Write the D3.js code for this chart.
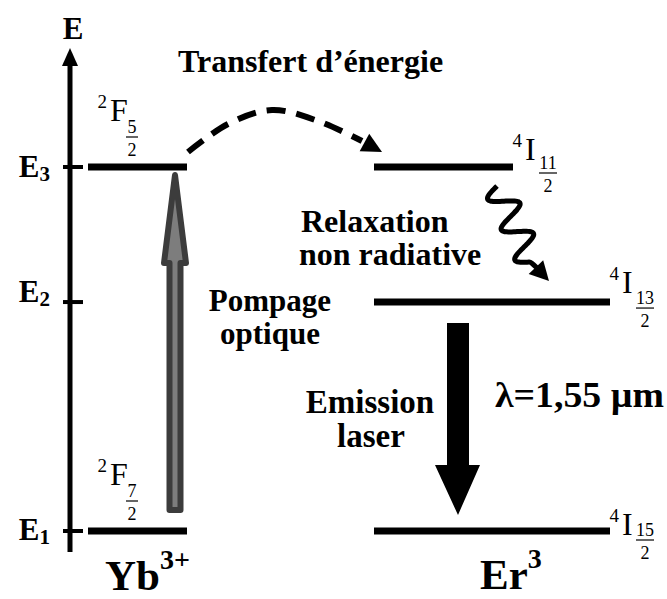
<!DOCTYPE html>
<html>
<head>
<meta charset="utf-8">
<script src="https://cdn.jsdelivr.net/npm/d3@7"></script>
<style>
  body { margin: 0; background: #fff; }
  text { font-family: "Liberation Serif", "Times New Roman", serif; fill: #000; }
  .bold { font-weight: bold; }
</style>
</head>
<body>
<div id="chart"></div>
<script>
// energy levels (arbitrary units, E1 = 0, E3 = 1)
const levelNames = ['E1', 'E2', 'E3'];
const levelEnergies = [0, 0.629, 1];

// Yb3+ levels and their terms
const ybLevels = ['E1', 'E3'];
const ybTerms = ['2F7/2', '2F5/2'];

// Er3+ levels and their terms
const erLevels = ['E1', 'E2', 'E3'];
const erTerms = ['4I15/2', '4I13/2', '4I11/2'];

const ionNames = ['Yb', 'Er'];
const ionCharges = ['3+', '3'];

const transferLabel = 'Transfert d\u2019énergie';
const relaxLabel = ['Relaxation', 'non radiative'];
const pumpLabel = ['Pompage', 'optique'];
const emissionLabel = ['Emission', 'laser'];
const wavelengthLabel = '\u03bb=1,55 \u00b5m';

const width = 667;
const height = 599;

const svg = d3.select('#chart').append('svg')
  .attr('width', width)
  .attr('height', height);

// energy -> pixel
const y = d3.scaleLinear().domain([0, 1]).range([531, 167]);
const energyOf = (name) => levelEnergies[levelNames.indexOf(name)];

const axisX = 70;
const axisTop = y(1.327);
const axisBottom = y(-0.058);

// level extents (x) per ion column
const ybX = [88, 187];
const erX = { E1: [374, 610], E2: [374, 610], E3: [374, 513] };

// Energy axis
svg.append('line')
  .attr('x1', axisX).attr('x2', axisX)
  .attr('y1', axisBottom).attr('y2', axisTop + 12)
  .attr('stroke', '#000').attr('stroke-width', 5);

svg.append('path')
  .attr('d', `M${axisX},${axisTop} L${axisX + 8},${axisTop + 18} L${axisX - 8},${axisTop + 18} Z`)
  .attr('fill', '#000');

svg.append('text')
  .attr('class', 'bold')
  .attr('x', axisX + 3).attr('y', axisTop - 9)
  .attr('text-anchor', 'middle')
  .style('font-size', '31px')
  .text('E');

// ticks across the axis + labels E1, E2, E3
const labelDy = { E1: 9, E2: 0, E3: 10 };
const ticks = svg.append('g').selectAll('g')
  .data(levelNames)
  .join('g')
  .attr('transform', (d) => `translate(0,${y(energyOf(d))})`);

ticks.append('line')
  .attr('x1', axisX - 7).attr('x2', axisX + 13)
  .attr('stroke', '#000').attr('stroke-width', 4);

const tickText = ticks.append('text')
  .attr('class', 'bold')
  .attr('x', 50)
  .attr('y', (d) => labelDy[d])
  .attr('text-anchor', 'end')
  .style('font-size', '31px');
tickText.append('tspan').text((d) => d[0]);
tickText.append('tspan')
  .attr('dy', 4)
  .style('font-size', '21px')
  .text((d) => d.slice(1));

// level bars
const drawLevel = (x0, x1, yy) => {
  svg.append('line')
    .attr('x1', x0).attr('x2', x1)
    .attr('y1', yy).attr('y2', yy)
    .attr('stroke', '#000').attr('stroke-width', 7);
};

ybLevels.forEach((l) => drawLevel(ybX[0], ybX[1], y(energyOf(l))));
erLevels.forEach((l) => drawLevel(erX[l][0], erX[l][1], y(energyOf(l))));

// spectroscopic term like 2F5/2
const drawTerm = (t, x, base, barY, numCx) => {
  const mult = t[0];
  const letter = t[1];
  const [num, den] = t.slice(2).split('/');
  const g = svg.append('g');
  g.append('text').attr('x', x - 3).attr('y', base - 13)
    .attr('text-anchor', 'end').style('font-size', '19px').text(mult);
  g.append('text').attr('x', x).attr('y', base)
    .style('font-size', '32px').text(letter);
  g.append('text').attr('x', numCx).attr('y', barY - 4)
    .attr('text-anchor', 'middle').style('font-size', '18px').text(num);
  const hw = num.length > 1 ? 9 : 6;
  g.append('line').attr('x1', numCx - hw).attr('x2', numCx + hw)
    .attr('y1', barY).attr('y2', barY)
    .attr('stroke', '#000').attr('stroke-width', 1.2);
  g.append('text').attr('x', numCx).attr('y', barY + 19)
    .attr('text-anchor', 'middle').style('font-size', '18px').text(den);
};

ybLevels.forEach((l, i) => {
  const yy = y(energyOf(l));
  drawTerm(ybTerms[i], ybX[0] + 22, yy - 46, yy - 30, ybX[0] + 44);
});

const erTermDy = { E1: [4, 9], E2: [-9, 6], E3: [-7, 6] };
erLevels.forEach((l, i) => {
  const yy = y(energyOf(l));
  const x1 = erX[l][1];
  drawTerm(erTerms[i], x1 + 12, yy + erTermDy[l][0], yy + erTermDy[l][1], x1 + 35);
});

// arrowhead helper
const headPts = (tip, from, len, hw) => {
  const dx = tip[0] - from[0];
  const dy = tip[1] - from[1];
  const d = Math.hypot(dx, dy);
  const ux = dx / d;
  const uy = dy / d;
  const bx = tip[0] - ux * len;
  const by = tip[1] - uy * len;
  return [[tip[0], tip[1]], [bx - uy * hw, by + ux * hw], [bx + uy * hw, by - ux * hw]];
};

// pumping arrow (grey, dark outline)
const pumpX = 175;
const pumpTop = y(1) + 8;
const pumpBottom = y(0) - 21;
const pumpHeadBase = 263;
const line = d3.line();
svg.append('path')
  .attr('d', line([
    [pumpX, pumpTop],
    [pumpX + 11, pumpHeadBase],
    [pumpX + 5.5, pumpHeadBase],
    [pumpX + 5.5, pumpBottom],
    [pumpX - 5.5, pumpBottom],
    [pumpX - 5.5, pumpHeadBase],
    [pumpX - 11, pumpHeadBase],
  ]) + 'Z')
  .attr('fill', '#7d7d7d')
  .attr('stroke', '#3c3c3c')
  .attr('stroke-width', 6)
  .attr('stroke-linejoin', 'round');

// laser emission arrow (black)
const emX = 458;
const emTop = y(levelEnergies[1]) + 21;
const emTip = y(0) - 16;
const emHeadBase = 465;
svg.append('path')
  .attr('d', line([
    [emX - 11, emTop],
    [emX + 11, emTop],
    [emX + 11, emHeadBase],
    [emX + 22, emHeadBase],
    [emX, emTip],
    [emX - 23, emHeadBase],
    [emX - 11, emHeadBase],
  ]) + 'Z')
  .attr('fill', '#000');

// energy transfer: dashed arc
const arcPts = [[188, 152], [228, 124], [272, 110], [318, 121], [362, 141]];
svg.append('path')
  .attr('d', d3.line().curve(d3.curveCardinal)(arcPts))
  .attr('fill', 'none')
  .attr('stroke', '#000')
  .attr('stroke-width', 6)
  .attr('stroke-dasharray', '19 11');
svg.append('path')
  .attr('d', line(headPts([382, 152], [360, 140], 20, 10)) + 'Z')
  .attr('fill', '#000');

// non radiative relaxation: wavy arrow
const wA = [497, 186];
const wB = [531, 262];
const wLen = Math.hypot(wB[0] - wA[0], wB[1] - wA[1]);
const ux = (wB[0] - wA[0]) / wLen;
const uy = (wB[1] - wA[1]) / wLen;
const wave = d3.range(0, 121).map((i) => {
  const t = i / 120;
  const off = 14 * Math.sin(2 * Math.PI * 2.5 * t);
  return [wA[0] + ux * wLen * t - uy * off, wA[1] + uy * wLen * t + ux * off];
});
const wTip = [549, 281];
wave.push([538, 269]);
svg.append('path')
  .attr('d', d3.line().curve(d3.curveBasis)(wave))
  .attr('fill', 'none')
  .attr('stroke', '#000')
  .attr('stroke-width', 5)
  .attr('stroke-linejoin', 'round');
svg.append('path')
  .attr('d', line(headPts(wTip, [531, 262], 19, 10)) + 'Z')
  .attr('fill', '#000');

// labels
const label = (txt, x, yy, size, anchor) => svg.append('text')
  .attr('class', 'bold')
  .attr('x', x).attr('y', yy)
  .attr('text-anchor', anchor || 'middle')
  .style('font-size', size + 'px')
  .text(txt);

label(transferLabel, 178, 72, 32, 'start');
label(relaxLabel[0], 301, 232, 32, 'start');
label(relaxLabel[1], 299, 265, 32, 'start');
label(pumpLabel[0], 270, 311, 31);
label(pumpLabel[1], 270, 344, 31);
label(emissionLabel[0], 370, 413, 33);
label(emissionLabel[1], 371, 447, 33);
label(wavelengthLabel, 495, 407, 35, 'start')
  .attr('textLength', 169)
  .attr('lengthAdjust', 'spacingAndGlyphs');

// ion names
const ionX = [105, 480];
const ionBase = [590, 589];
ionNames.forEach((n, i) => {
  const t = svg.append('text')
    .attr('class', 'bold')
    .attr('x', ionX[i]).attr('y', ionBase[i])
    .style('font-size', '43px');
  t.append('tspan').text(n);
  t.append('tspan').attr('dy', -21).style('font-size', '28px').text(ionCharges[i]);
});
</script>
</body>
</html>
